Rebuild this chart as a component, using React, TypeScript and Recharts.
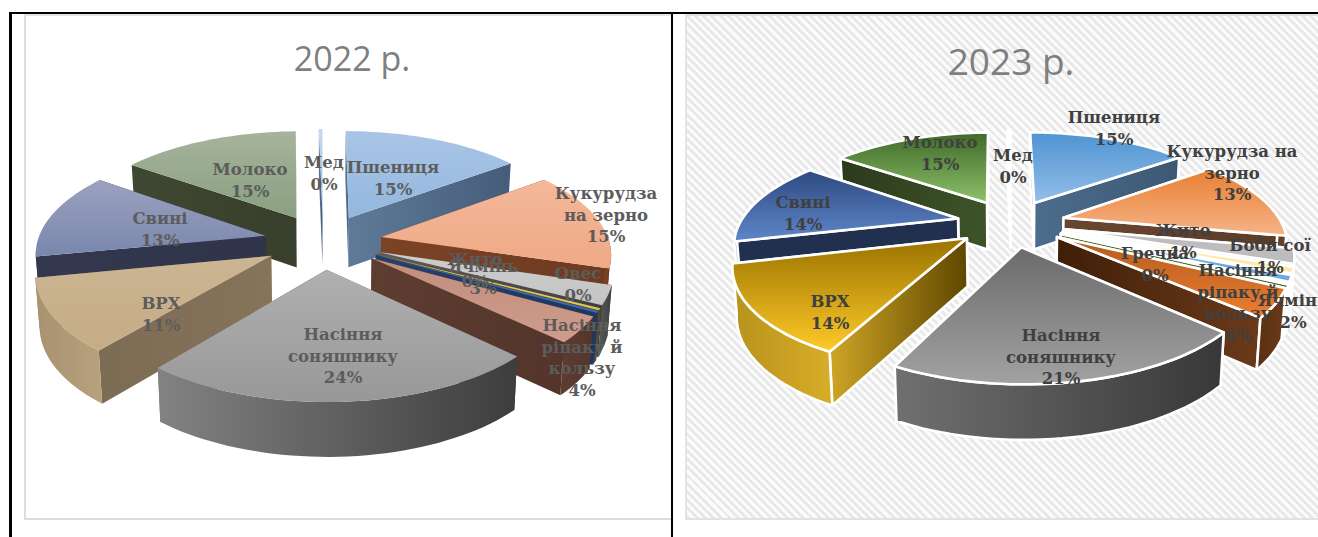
import React from 'react';
import { Pie, PieChart } from 'recharts';

// Production shares, percent of the total, clockwise from 12 o'clock.
const names2022 = ['Пшениця', 'Кукурудза на зерно', 'Ячмінь', 'Овес', 'Жито', 'Насіння ріпаку й кользу', 'Насіння соняшнику', 'ВРХ', 'Свині', 'Молоко', 'Мед'];
const values2022 = [14.8, 14.9, 2.9, 0.3, 0.3, 3.9, 23.8, 10.9, 13.0, 14.8, 0.3];

const names2023 = ['Пшениця', 'Кукурудза на зерно', 'Ячмінь', 'Жито', 'Боби сої', 'Гречка', 'Насіння ріпаку й кользу', 'Насіння соняшнику', 'ВРХ', 'Свині', 'Молоко', 'Мед'];
const values2023 = [14.9, 13.4, 2.4, 1.0, 1.0, 0.2, 4.4, 20.6, 14.0, 14.0, 14.8, 0.3];

// [top start, top end, rim left, rim right, radial wall left, radial wall right]
const colors2022 = [
  ['#a9c5e6', '#93b7de', '#5f7a98', '#465d7a', '#5f7a98', '#465d7a'],
  ['#f4b89a', '#efa985', '#7c4326', '#6e3a20', '#7c4326', '#6e3a20'],
  ['#cdcdcd', '#c4c4c4', '#5c5c5c', '#3f3f3f', '#5c5c5c', '#3f3f3f'],
  ['#e9cb68', '#e2c25a', '#6a5a20', '#5a4c18', '#6a5a20', '#5a4c18'],
  ['#4a76b0', '#3c68a4', '#25406c', '#1f3760', '#25406c', '#1f3760'],
  ['#c08c7c', '#d09c8c', '#5e3d31', '#53352b', '#5e3d31', '#53352b'],
  ['#b0b0b0', '#989898', '#828282', '#3d3d3d', '#828282', '#3d3d3d'],
  ['#cbb592', '#c5ac87', '#a8926f', '#b8a27e', '#7d6c54', '#85745a'],
  ['#9ca1bf', '#7987ad', '#33384f', '#2f344b', '#33384f', '#2f344b'],
  ['#a6b49c', '#8a9f80', '#3f4833', '#383f2c', '#3f4833', '#383f2c'],
  ['#c4daf0', '#9cbfe0', '#5c7a9c', '#3c5878', '#5c7a9c', '#3c5878'],
];

const colors2023 = [
  ['#4f94d2', '#93bee9', '#4d6d8d', '#3c5874', '#4d6d8d', '#3c5874'],
  ['#e97f32', '#f5b488', '#6a4630', '#5c3c28', '#6a4630', '#5c3c28'],
  ['#bdbdbd', '#bdbdbd', '#b5b5b5', '#b5b5b5', '#b5b5b5', '#b5b5b5'],
  ['#ffe9a6', '#ffe9a6', '#ffe9a6', '#ffe9a6', '#ffe9a6', '#ffe9a6'],
  ['#6fa8dc', '#6fa8dc', '#5a8cc0', '#5a8cc0', '#5a8cc0', '#5a8cc0'],
  ['#8cbf66', '#8cbf66', '#50702f', '#50702f', '#50702f', '#50702f'],
  ['#b35c1e', '#ed7d31', '#5a2f12', '#6b3a1a', '#3f1f08', '#6b3a1a'],
  ['#6b6b6b', '#a2a2a2', '#707070', '#383838', '#707070', '#383838'],
  ['#9a7300', '#ffca28', '#b8921c', '#d8ad28', '#cfa526', '#5e4700'],
  ['#2e4a80', '#5f86ca', '#22304f', '#22304f', '#22304f', '#22304f'],
  ['#3f6a28', '#8dc16a', '#2c3a1c', '#3e5428', '#2c3a1c', '#3e5428'],
  ['#ffffff', '#f4f8fc', '#e8eef5', '#e0e8f0', '#e8eef5', '#e0e8f0'],
];

// Data label spots: centre x, first line baseline, wrapped text.
const labels2022: Record<string, [number, number, string[]]> = {
  'Пшениця': [393, 173, ['Пшениця']],
  'Кукурудза на зерно': [606, 199, ['Кукурудза', 'на зерно']],
  'Ячмінь': [483, 272, ['Ячмінь']],
  'Овес': [578, 279, ['Овес']],
  'Жито': [475, 265, ['Жито']],
  'Насіння ріпаку й кользу': [582, 331, ['Насіння', 'ріпаку й', 'кользу']],
  'Насіння соняшнику': [343, 340, ['Насіння', 'соняшнику']],
  'ВРХ': [161, 309, ['ВРХ']],
  'Свині': [160, 224, ['Свині']],
  'Молоко': [250, 175, ['Молоко']],
  'Мед': [324, 168, ['Мед']],
};

const labels2023: Record<string, [number, number, string[]]> = {
  'Пшениця': [1114, 123, ['Пшениця']],
  'Кукурудза на зерно': [1232, 157, ['Кукурудза на', 'зерно']],
  'Ячмінь': [1293, 306, ['Ячмінь']],
  'Жито': [1183, 236, ['Жито']],
  'Боби сої': [1270, 251, ['Боби сої']],
  'Гречка': [1155, 259, ['Гречка']],
  'Насіння ріпаку й кользу': [1238, 276, ['Насіння', 'ріпаку й', 'кользу']],
  'Насіння соняшнику': [1061, 341, ['Насіння', 'соняшнику']],
  'ВРХ': [830, 307, ['ВРХ']],
  'Свині': [803, 208, ['Свині']],
  'Молоко': [940, 148, ['Молоко']],
  'Мед': [1013, 161, ['Мед']],
};

type Disc = { cx: number; cy: number; rx: number; ry: number; k: number; depth: number; explode: number };

const disc2022: Disc = { cx: 323, cy: 241.5, rx: 228, ry: 105, k: 0.14, depth: 50, explode: 0.26 };
const disc2023: Disc = { cx: 1011, cy: 223, rx: 218, ry: 94, k: 0.22, depth: 47.5, explode: 0.25 };

// Perspective mapping of a point on the unit disc to the screen.
function project(d: Disc, u: number, v: number) {
  const p = 1 / (1 - d.k * v);
  return { x: d.cx + d.rx * u * p, y: d.cy + d.ry * v * p, p };
}

function lower(d: Disc, pt: { x: number; y: number; p: number }) {
  return { x: d.cx + (pt.x - d.cx) * 0.985, y: pt.y + d.depth * (0.55 + 0.45 * pt.p), p: pt.p };
}

const toPath = (pts: { x: number; y: number }[]) =>
  'M' + pts.map((q) => `${q.x.toFixed(1)},${q.y.toFixed(1)}`).join('L') + 'Z';

function Slice3D({ sector, disc, chartId, index, outline }: any) {
  const rad = Math.PI / 180;
  const from = 90 - sector.startAngle;
  const to = 90 - sector.endAngle;
  const mid = ((from + to) / 2) * rad;
  const ou = disc.explode * Math.sin(mid);
  const ov = -disc.explode * Math.cos(mid);

  const rim = (deg: number) => project(disc, ou + Math.sin(deg * rad), ov - Math.cos(deg * rad));
  const apex = project(disc, ou, ov);

  const steps = Math.max(2, Math.ceil((to - from) / 2));
  const arc = Array.from({ length: steps + 1 }, (_, i) => rim(from + ((to - from) * i) / steps));

  const radialWall = (end: { x: number; y: number; p: number }) =>
    toPath([apex, end, lower(disc, end), lower(disc, apex)]);

  // Rim wall only faces the viewer on the near side of the disc.
  const frontFrom = Math.max(from, 90);
  const frontTo = Math.min(to, 262);
  let rimWall = null;
  if (frontTo > frontFrom) {
    const n = Math.max(2, Math.ceil((frontTo - frontFrom) / 2));
    const edge = Array.from({ length: n + 1 }, (_, i) => rim(frontFrom + ((frontTo - frontFrom) * i) / n));
    rimWall = toPath([...edge, ...edge.map((q) => lower(disc, q)).reverse()]);
  }

  const first = arc[0];
  const last = arc[arc.length - 1];
  const radials = first.y < last.y ? [first, last] : [last, first];
  const faceProps = outline
    ? { stroke: '#fff', strokeWidth: 2.6, strokeLinejoin: 'round' as const }
    : { stroke: 'none' };

  return (
    <g>
      {radials.map((end, i) => (
        <path key={i} d={radialWall(end)} fill={`url(#${chartId}-side-${index})`} {...faceProps} />
      ))}
      {rimWall && <path d={rimWall} fill={`url(#${chartId}-wall-${index})`} {...faceProps} />}
      <path d={toPath([apex, ...arc])} fill={`url(#${chartId}-top-${index})`} {...faceProps} />
    </g>
  );
}

function Pie3D({ id, title, titleX, titleY, titleSize, names, values, colors, disc, spots, outline, textColor, left, width }: any) {
  const data = names.map((name: string, i: number) => ({ name, value: values[i] }));
  const total = values.reduce((a: number, b: number) => a + b, 0);

  // Back slices are painted first so the near ones can overlap them.
  let acc = 0;
  const depthOrder = values
    .map((v: number, i: number) => {
      const mid = ((acc + v / 2) / total) * 2 * Math.PI;
      acc += v;
      return { i, c: Math.cos(mid) };
    })
    .sort((a: any, b: any) => b.c - a.c)
    .map((o: any) => o.i);

  const sharedPie = {
    data,
    dataKey: 'value',
    nameKey: 'name',
    cx: disc.cx - left,
    cy: disc.cy,
    outerRadius: disc.rx,
    startAngle: 90,
    endAngle: -270,
    isAnimationActive: false,
    legendType: 'none' as const,
    tooltipType: 'none' as const,
  };

  const shifted = { ...disc, cx: disc.cx - left };

  return (
    <div style={{ position: 'absolute', left, top: 0 }}>
      <PieChart width={width} height={537} margin={{ top: 0, right: 0, bottom: 0, left: 0 }}>
        <defs>
          {colors.map((c: string[], i: number) => (
            <React.Fragment key={i}>
              <linearGradient id={`${id}-top-${i}`} x1="0" y1="0" x2="0" y2="1">
                <stop offset="0" stopColor={c[0]} />
                <stop offset="1" stopColor={c[1]} />
              </linearGradient>
              <linearGradient id={`${id}-wall-${i}`} x1="0" y1="0" x2="1" y2="0">
                <stop offset="0" stopColor={c[2]} />
                <stop offset="1" stopColor={c[3]} />
              </linearGradient>
              <linearGradient id={`${id}-side-${i}`} x1="0" y1="0" x2="1" y2="0">
                <stop offset="0" stopColor={c[4]} />
                <stop offset="1" stopColor={c[5]} />
              </linearGradient>
            </React.Fragment>
          ))}
        </defs>
        {depthOrder.map((sliceIndex: number) => (
          <Pie
            key={sliceIndex}
            {...sharedPie}
            shape={(props: any) =>
              props.name === names[sliceIndex] ? (
                <Slice3D sector={props} disc={shifted} chartId={id} index={sliceIndex} outline={outline} />
              ) : (
                <g />
              )
            }
          />
        ))}
        <Pie
          {...sharedPie}
          shape={() => <g />}
          labelLine={false}
          label={(props: any) => {
            const [x, y, lines] = spots[props.name];
            const rows = [...lines, `${Math.round(props.value)}%`];
            return (
              <text
                key={props.name}
                x={x - left}
                y={y}
                textAnchor="middle"
                fill={textColor}
                fontFamily="'DejaVu Serif', serif"
                fontWeight="bold"
                fontSize={16.5}
              >
                {rows.map((row: string, i: number) => (
                  <tspan key={i} x={x - left} dy={i === 0 ? 0 : 21.5}>
                    {row}
                  </tspan>
                ))}
              </text>
            );
          }}
        />
        <text
          x={titleX - left}
          y={titleY}
          textAnchor="middle"
          fill="#7f7f7f"
          fontFamily="'Open Sans', sans-serif"
          fontSize={titleSize}
        >
          {title}
        </text>
      </PieChart>
    </div>
  );
}

export default function App() {
  return (
    <div style={{ position: 'absolute', left: 0, top: 0, width: 1318, height: 537, overflow: 'hidden', background: '#fff' }}>
      {/* table rules around the two cells */}
      <div style={{ position: 'absolute', left: 24, top: 14, width: 647, height: 506, boxSizing: 'border-box', borderLeft: '2px solid #dcdcdc', borderTop: '2px solid #e4e4e4', borderBottom: '2px solid #dcdcdc', background: '#fff' }} />
      <div
        style={{
          position: 'absolute',
          left: 685,
          top: 14,
          width: 633,
          height: 506,
          boxSizing: 'border-box',
          borderLeft: '2px solid #e2e2e2',
          borderTop: '2px solid #e2e2e2',
          borderBottom: '2px solid #e2e2e2',
          background: 'repeating-linear-gradient(45deg, #e8e8e8 0 2.8px, #fbfbfb 2.8px 5.8px)',
        }}
      />
      <div style={{ position: 'absolute', left: 9, top: 12, width: 1309, height: 2, background: '#000' }} />
      <div style={{ position: 'absolute', left: 9, top: 12, width: 3, height: 525, background: '#000' }} />
      <div style={{ position: 'absolute', left: 671, top: 12, width: 2, height: 525, background: '#000' }} />

      <Pie3D
        id="y2022"
        title="2022 р."
        titleX={352}
        titleY={71}
        titleSize={34}
        names={names2022}
        values={values2022}
        colors={colors2022}
        disc={disc2022}
        spots={labels2022}
        outline={false}
        textColor="#5c5c5c"
        left={0}
        width={672}
      />
      <Pie3D
        id="y2023"
        title="2023 р."
        titleX={1011}
        titleY={75}
        titleSize={37}
        names={names2023}
        values={values2023}
        colors={colors2023}
        disc={disc2023}
        spots={labels2023}
        outline={true}
        textColor="#404040"
        left={672}
        width={646}
      />
    </div>
  );
}
